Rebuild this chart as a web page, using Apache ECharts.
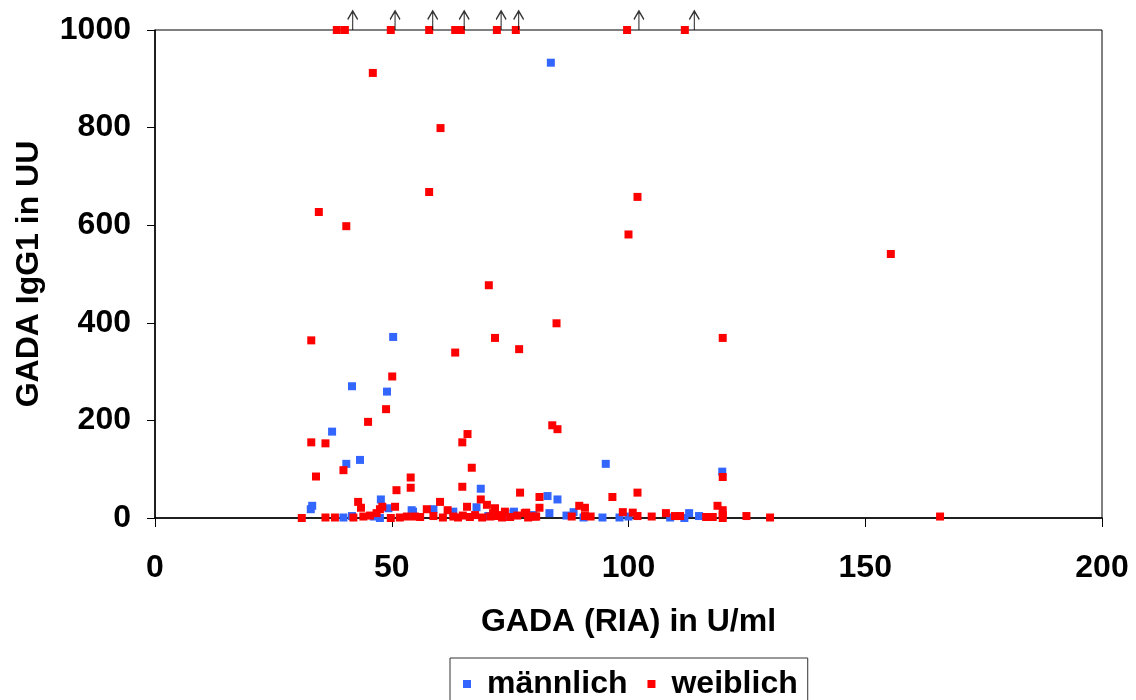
<!DOCTYPE html>
<html>
<head>
<meta charset="utf-8">
<script src="https://cdn.jsdelivr.net/npm/echarts@6/dist/echarts.min.js"></script>
<style>
  html, body { margin: 0; padding: 0; background: #fff; }
  #chart { width: 1136px; height: 700px; }
</style>
</head>
<body>
<div id="chart"></div>
<script>
// GADA (RIA) in U/ml vs GADA IgG1 in UU
const maleX = [83.6, 50.3, 41.6, 49.0, 37.4, 40.4, 43.3, 95.2, 119.8, 33.2, 32.9, 47.7, 68.8, 82.9, 85.0, 83.3,
  39.8, 41.6, 49.3, 54.5, 46.2, 47.5, 54.2, 58.8, 63.0, 67.9, 75.8, 70.4, 73.9, 75.7, 79.9, 86.9, 88.4, 90.5,
  94.5, 98.1, 100.0, 108.8, 111.8, 112.8, 114.9]
const maleY = [933, 371, 270, 259, 177, 111, 119, 111, 95, 25, 18, 38, 60, 45, 38, 10,
  1, 4, 20, 13, 3, 0, 16, 18, 13, 22, 13, 4, 3, 10, 6, 5, 12, 1,
  1, 1, 3, 1, 0, 10, 4]

const femaleX = [38.4, 40.1, 49.8, 57.9, 63.4, 64.6, 72.2, 76.2, 99.7, 111.9,
  46.0, 60.3, 57.9, 101.9, 34.6, 40.4, 100.0, 155.4, 70.5, 84.8, 71.8, 119.9, 33.0, 76.9, 63.4,
  50.1, 48.8, 45.0, 83.9, 85.0, 66.0, 64.9, 33.0, 36.0, 66.9, 39.8, 34.0, 54.0, 54.0, 51.0, 64.9,
  68.8, 77.1, 96.6, 101.9, 119.9, 81.2, 81.2, 42.9, 43.5, 50.7, 48.0, 60.2, 57.4, 61.8, 65.9, 70.1,
  71.8, 73.9, 78.4, 89.6, 90.8, 98.8, 100.9, 107.9, 118.8, 119.9, 119.9, 119.9,
  31.0, 36.0, 38.0, 41.9, 44.0, 45.4, 46.8, 47.5, 49.8, 51.7, 53.2, 54.9,
  56.0, 58.8, 60.8, 63.0, 64.0, 65.0, 66.5, 67.6, 69.1, 70.8, 72.2, 73.3, 75.0, 76.5, 78.8, 80.3,
  78.1, 79.2, 80.5, 71.4, 72.9, 88.0, 90.8, 92.0, 101.9, 104.9, 109.8, 110.9, 116.4, 117.8,
  124.9, 129.9, 165.8]
const femaleY = [1000, 1000, 1000, 1000, 1000, 1000, 1000, 1000, 1000, 1000,
  912, 799, 668, 658, 627, 598, 581, 541, 477, 399, 369, 369, 364, 346, 339,
  290, 223, 197, 190, 182, 172, 155, 155, 153, 103, 98, 85, 83, 62, 57, 64,
  38, 52, 43, 52, 84, 43, 21, 33, 21, 23, 23, 33, 18, 16, 23, 27,
  20, 13, 11, 25, 21, 12, 11, 10, 25, 16, 6, 0,
  0, 1, 1, 1, 3, 5, 10, 18, 0, 1, 3, 3,
  2, 4, 1, 3, 1, 5, 2, 6, 1, 3, 4, 1, 2, 5, 1, 3,
  10, 3, 3, 10, 6, 3, 4, 3, 4, 3, 4, 4, 2, 2,
  4, 1, 3]

// values above 1000 (arrow marks)
const overX = [41.75, 50.7, 58.65, 65.3, 73.1, 76.8, 102.2, 113.9]
const overY = [1000, 1000, 1000, 1000, 1000, 1000, 1000, 1000]

const xTicks = [0, 50, 100, 150, 200]
const yTicks = [0, 200, 400, 600, 800, 1000]

const zip = (xs, ys) => xs.map((x, i) => [x, ys[i]])

const chart = echarts.init(document.getElementById('chart'))
const font = 'Liberation Sans, Arial, sans-serif'
const bold = { fontFamily: font, fontSize: 32, fontWeight: 'bold', color: '#000' }

const option = {
  animation: false,
  backgroundColor: '#fff',
  grid: {
    left: 155,
    right: 34,
    top: 30,
    bottom: 182,
    show: true,
    borderColor: '#000',
    borderWidth: 1,
  },
  legend: {
    data: ['männlich', 'weiblich'],
    left: 450,
    top: 658,
    padding: [10, 10, 20, 13],
    itemGap: 20,
    itemWidth: 8,
    itemHeight: 8,
    borderColor: '#333',
    borderWidth: 1,
    textStyle: { ...bold, padding: [0, 0, 0, 11] },
  },
  xAxis: {
    type: 'value',
    min: 0,
    max: 200,
    interval: 50,
    name: 'GADA (RIA) in U/ml',
    nameLocation: 'middle',
    nameGap: 88,
    nameTextStyle: bold,
    splitLine: { show: false },
    axisLine: { lineStyle: { color: '#000', width: 1.5 } },
    axisTick: { length: 9, lineStyle: { color: '#000' } },
    axisLabel: {
      ...bold,
      margin: 34,
      formatter: v => (xTicks.includes(v) ? String(v) : ''),
    },
  },
  yAxis: {
    type: 'value',
    min: 0,
    max: 1000,
    interval: 200,
    name: 'GADA IgG1 in UU',
    nameLocation: 'middle',
    nameGap: 110,
    nameTextStyle: bold,
    splitLine: { show: false },
    axisLine: { show: true, lineStyle: { color: '#000', width: 1.5 } },
    axisTick: { show: true, length: 8, lineStyle: { color: '#000' } },
    axisLabel: {
      ...bold,
      margin: 24,
      formatter: v => (yTicks.includes(v) ? String(v) : ''),
    },
  },
  series: [
    {
      name: 'männlich',
      type: 'scatter',
      symbol: 'rect',
      symbolSize: 8,
      clip: false,
      itemStyle: { color: '#3366ff', opacity: 1 },
      data: zip(maleX, maleY),
    },
    {
      name: 'weiblich',
      type: 'scatter',
      symbol: 'rect',
      symbolSize: 8,
      clip: false,
      itemStyle: { color: '#ff0000', opacity: 1 },
      data: zip(femaleX, femaleY),
    },
    {
      name: 'über 1000',
      type: 'scatter',
      symbol: 'path://M5,0 L5,20 M0.5,9 L5,0 L9.5,9',
      symbolSize: [10, 19],
      symbolOffset: [0, -9.5],
      symbolKeepAspect: false,
      clip: false,
      silent: true,
      itemStyle: { color: 'rgba(0,0,0,0)', borderColor: '#000', borderWidth: 1.5 },
      data: zip(overX, overY),
    },
  ],
}

chart.setOption(option, true)
</script>
</body>
</html>
